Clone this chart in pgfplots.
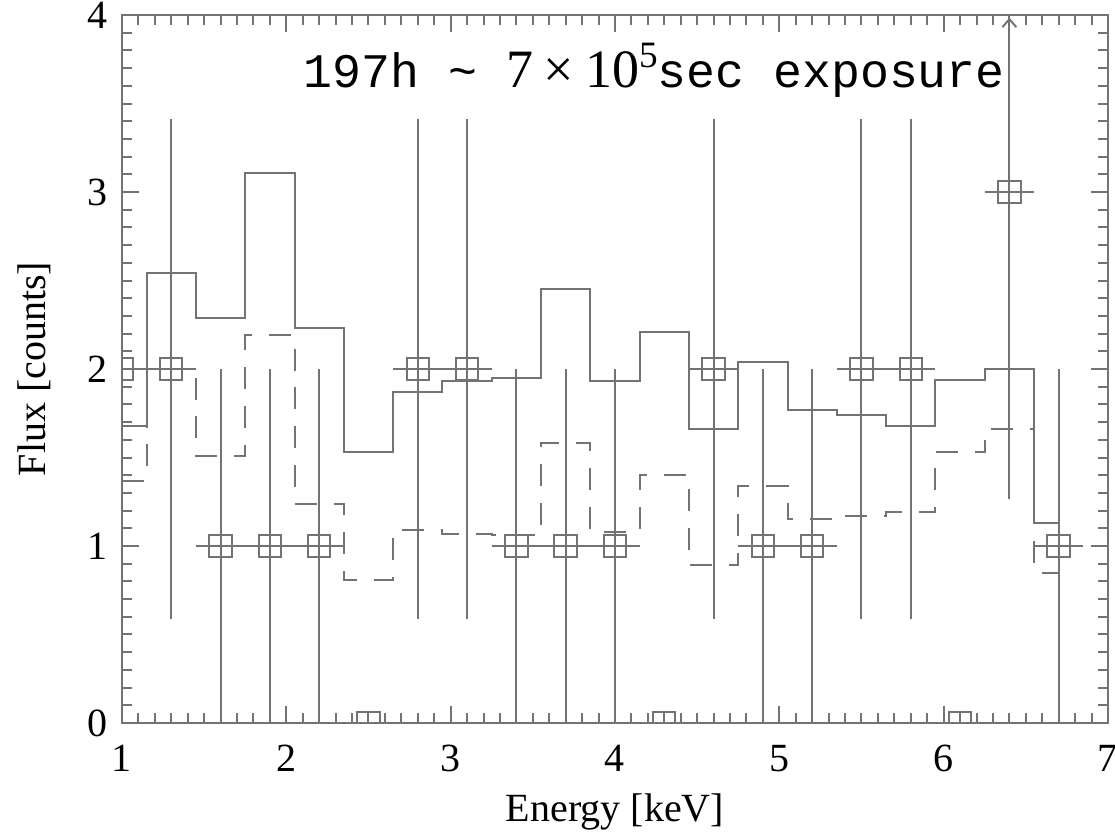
\documentclass[border=0pt]{standalone}
\usepackage{fontspec}
\setmainfont{Liberation Serif}
\setmonofont{Liberation Mono}
\usepackage{pgfplots}
\pgfplotsset{compat=1.18}
\usepackage{pgfplotstable}
\usetikzlibrary{arrows.meta}

% observed counts per 0.3 keV bin, with Poisson (sqrt n) errors
\pgfplotstableread{
x   y  ey
1.0 2  1.414
1.3 2  1.414
1.6 1  1
1.9 1  1
2.2 1  1
2.5 0  0
2.8 2  1.414
3.1 2  1.414
3.4 1  1
3.7 1  1
4.0 1  1
4.3 0  0
4.6 2  1.414
4.9 1  1
5.2 1  1
5.5 2  1.414
5.8 2  1.414
6.1 0  0
6.4 3  1.732
6.7 1  1
}\counts

% model spectra sampled at the bin centres
\pgfplotstableread{
x   ma    mb
1.0 1.68  1.37
1.3 2.54  2.00
1.6 2.29  1.51
1.9 3.11  2.19
2.2 2.23  1.24
2.5 1.53  0.81
2.8 1.87  1.09
3.1 1.93  1.07
3.4 1.95  1.06
3.7 2.45  1.58
4.0 1.93  1.08
4.3 2.21  1.40
4.6 1.66  0.89
4.9 2.04  1.34
5.2 1.77  1.15
5.5 1.74  1.17
5.8 1.68  1.19
6.1 1.94  1.53
6.4 2.00  1.66
6.7 1.13  0.85
}\models

\colorlet{ink}{black!55}

\begin{document}
\begin{tikzpicture}
\begin{axis}[
  scale only axis, width=246.5pt, height=177pt,
  xmin=1, xmax=7, ymin=0, ymax=4,
  xtick={1,2,...,7}, ytick={0,1,...,4},
  minor x tick num=9, minor y tick num=9,
  tick align=inside,
  major tick length=4.3pt, minor tick length=2.6pt,
  axis line style={draw=ink, line width=0.5pt},
  every tick/.style={draw=ink, line width=0.5pt},
  /pgf/number format/assume math mode=true,
  tick label style={font=\fontsize{10}{12}\selectfont, text=black},
  xticklabel style={yshift=-2pt},
  xlabel={Energy [keV]}, ylabel={Flux [counts]},
  label style={font=\fontsize{10}{12}\selectfont, text=black},
  xlabel style={at={(axis description cs:0.5,-0.1398)}, anchor=base},
  ylabel style={at={(axis description cs:-0.0892,0.5)}, anchor=center},
  clip marker paths=true,
]
% model 1 (solid histogram)
\addplot[draw=ink, line width=0.5pt, const plot mark mid, mark=none]
  table[x=x, y=ma] {\models};
% model 2 (dashed histogram)
\addplot[draw=ink, line width=0.5pt, const plot mark mid, mark=none,
  dash pattern=on 5.5pt off 4.2pt]
  table[x=x, y=mb] {\models};
% data with error bars
\addplot[draw=ink, line width=0.5pt, only marks, mark=square, mark size=2.8pt,
  mark options={draw=ink, fill=none, solid},
  error bars/.cd, y dir=both, y explicit, x dir=both, x fixed=0.15,
  error mark=none, error bar style={draw=ink, line width=0.5pt, solid}]
  table[x=x, y=y, y error=ey] {\counts};
% upper error of the 6.4 keV bin runs off the top
\addplot[draw=ink, line width=0.5pt, -{Straight Barb[length=2pt,width=3.5pt]}]
  coordinates {(6.4,3.6) (6.4,3.985)};
\node[anchor=base west, inner sep=0pt, text=black] at (axis cs:2.1,3.593)
  {\fontsize{12.05}{14}\selectfont\ttfamily 197h \textasciitilde{} {\rmfamily\fontsize{13.5}{15}\selectfont 7\hspace{0.2em}×\hspace{0.2em}10\raisebox{4.9pt}{\fontsize{9.3}{10}\selectfont 5}}sec exposure};
\end{axis}
\pgfresetboundingbox
\path[use as bounding box] (-30.5pt,-28pt) rectangle (248.25pt,180.75pt);
\end{tikzpicture}
\end{document}
